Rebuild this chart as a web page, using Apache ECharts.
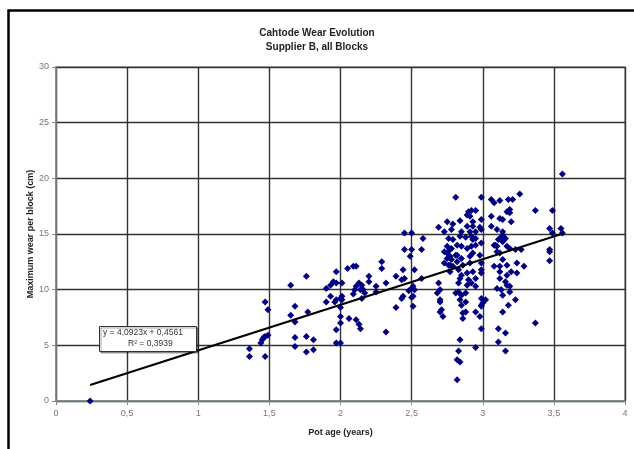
<!DOCTYPE html>
<html>
<head>
<meta charset="utf-8">
<script src="https://cdn.jsdelivr.net/npm/echarts@6/dist/echarts.min.js"></script>
<style>
  html, body { margin: 0; padding: 0; background: #fff; }
  #chart { width: 634px; height: 449px; }
</style>
</head>
<body>
<div id="chart"></div>
<script>
// pot age (years) and maximum wear (cm)
const potAge = [
  0.24,
  1.36, 1.36, 1.47, 1.49, 1.47, 1.46, 1.45, 1.49, 1.44, 1.47,
  1.65, 1.76, 1.68, 1.65, 1.68, 1.77, 1.68, 1.68, 1.76, 1.81, 1.76, 1.81,
  1.90, 1.93, 1.95, 1.97, 1.90, 1.93, 1.96, 2.00, 2.00, 2.00, 1.97, 1.97, 2.00,
  2.45, 2.50, 2.58, 2.45, 2.50, 2.49, 2.57, 2.29, 2.29, 2.09, 2.05, 2.11,
  2.44, 2.52, 2.20, 2.20, 2.32, 2.39, 2.43, 2.45, 2.13, 2.11, 2.15, 2.01,
  1.97, 2.10, 2.14, 2.16, 2.17, 2.25, 2.25, 2.15, 2.09, 2.01, 2.01, 2.50,
  2.52, 2.48, 2.44, 2.43, 2.50, 2.39, 2.51, 1.97, 2.00, 2.06, 2.11, 2.13,
  2.14, 2.32,
  2.81, 2.99, 3.26, 3.06, 3.08, 3.12, 3.18, 3.21, 3.37, 3.49, 3.56, 2.90,
  2.92, 2.95, 2.89, 2.91, 2.75, 2.79, 2.84, 2.99, 3.06, 3.12, 3.14, 3.17,
  3.19, 3.20, 2.69, 2.73, 2.78, 2.85, 2.89, 2.91, 2.93, 2.98, 3.06, 3.10,
  3.14, 3.47, 3.55, 3.56, 2.76, 2.79, 2.84, 2.88, 2.92, 2.95, 3.12, 3.16,
  2.75, 2.78, 2.82, 2.85, 2.89, 2.92, 3.08, 3.10, 3.17, 3.23, 3.27, 3.47,
  2.75, 2.77, 2.81, 2.85, 2.91, 3.47, 3.12, 3.14, 2.73, 2.77, 2.82, 2.86,
  2.91, 2.99, 3.08, 3.12, 3.17, 3.24, 3.29, 2.77, 2.83, 2.85, 2.89, 2.93,
  2.99, 3.12, 3.17, 3.20, 3.24, 2.57, 2.84, 2.90, 2.95, 3.12, 3.16, 3.17,
  2.83, 2.89, 2.92, 2.95, 2.69, 2.70, 2.68, 2.51, 2.51, 2.83, 2.85, 2.81,
  2.88, 2.84, 2.88, 2.85, 2.99, 3.02, 3.10, 3.13, 3.14, 3.19, 3.23, 3.18,
  2.70, 2.71, 2.70, 2.72, 2.88, 2.86, 2.95, 2.99, 2.98, 3.14, 3.37, 2.99,
  3.11, 3.16, 3.11, 2.84, 2.95, 3.16, 2.83, 2.82, 2.84, 2.82, 2.70, 2.86,
  3.00, 2.99, 3.19, 2.99, 2.73, 2.77, 2.75, 2.78, 2.76, 2.79, 2.82,
  3.14, 3.11, 3.14, 3.09, 3.10, 3.19, 3.19, 3.49, 3.47,
  2.95, 2.99, 2.93, 2.99, 2.95, 2.93, 2.98, 2.93
];
const maxWear = [
  0.0,
  4.7, 4.0, 8.9, 8.2, 5.8, 5.7, 5.5, 5.9, 5.2, 4.0,
  10.4, 11.2, 8.5, 7.7, 7.1, 8.0, 5.7, 4.9, 5.8, 5.5, 4.4, 4.6,
  10.1, 10.4, 10.7, 11.6, 8.9, 9.4, 8.9, 9.2, 7.6, 7.0, 6.4, 5.2, 5.2,
  15.1, 15.1, 14.6, 13.6, 13.6, 13.0, 13.6, 12.5, 11.9, 12.1, 11.9, 12.1,
  11.8, 11.8, 11.2, 10.7, 10.6, 11.2, 10.9, 11.0, 10.6, 10.3, 10.4, 10.6,
  10.6, 10.0, 10.0, 10.0, 9.7, 10.3, 9.8, 9.2, 9.6, 9.4, 9.1, 10.1,
  10.0, 9.9, 9.4, 9.2, 9.3, 8.4, 8.5, 9.1, 8.4, 7.4, 7.3, 6.9,
  6.5, 6.2,
  18.3, 18.3, 18.6, 18.1, 17.8, 18.0, 18.1, 18.1, 17.1, 17.1, 20.4, 17.0,
  17.1, 17.1, 16.7, 16.6, 16.1, 15.9, 16.2, 16.3, 16.6, 16.4, 16.3, 17.0,
  16.9, 16.1, 15.6, 15.2, 15.4, 15.2, 15.7, 15.2, 15.7, 15.6, 15.7, 15.4,
  15.2, 15.5, 15.5, 15.1, 14.6, 14.5, 14.8, 14.7, 14.8, 14.6, 14.6, 14.6,
  13.9, 13.7, 14.0, 13.9, 13.7, 13.9, 14.0, 13.9, 13.9, 13.6, 13.6, 13.4,
  13.3, 13.0, 13.1, 12.8, 13.0, 12.6, 13.3, 12.7, 12.4, 12.2, 12.5, 12.2,
  12.4, 12.4, 12.1, 12.1, 12.2, 12.4, 12.1, 11.6, 11.8, 11.3, 11.5, 11.6,
  11.8, 11.6, 11.3, 11.6, 11.5, 11.0, 11.0, 10.9, 11.0, 11.0, 10.7, 10.4,
  10.6, 10.4, 10.6, 10.3, 10.6, 10.0, 9.7, 10.3, 9.4, 9.8, 9.5, 9.7,
  9.7, 9.1, 8.9, 8.6, 9.2, 9.1, 10.1, 10.0, 9.5, 9.8, 9.1, 8.6,
  8.9, 8.2, 8.0, 7.6, 8.0, 7.4, 8.0, 8.6, 7.6, 8.0, 7.0, 6.5,
  6.5, 6.1, 5.3, 5.5, 4.8, 4.5, 4.5, 3.7, 3.5, 1.9, 9.1, 7.9,
  8.8, 8.5, 10.3, 11.5, 13.4, 13.6, 12.8, 12.7, 12.2, 12.1, 13.1,
  14.9, 14.5, 14.3, 14.0, 13.4, 13.7, 17.2, 15.1, 13.6,
  15.2, 15.4, 14.5, 14.2, 14.0, 13.3, 13.1, 16.1
];

// linear trendline as printed on the chart
const slope = 4.0923;
const intercept = 0.4561;
const trendRange = [0.24, 3.57];

const xTicks = [0, 0.5, 1, 1.5, 2, 2.5, 3, 3.5, 4];
const yTicks = [0, 5, 10, 15, 20, 25, 30];

const points = potAge.map((x, i) => [x, maxWear[i]]);
const trend = trendRange.map((x) => [x, slope * x + intercept]);

const chart = echarts.init(document.getElementById("chart"));

const fontFamily = "Liberation Sans, Arial, sans-serif";

chart.setOption({
  animation: false,
  backgroundColor: "#fff",
  title: {
    text: "Cahtode Wear Evolution\nSupplier B, all Blocks",
    left: "center",
    top: 21,
    textStyle: {
      fontFamily,
      fontSize: 10,
      fontWeight: "bold",
      color: "#222",
      lineHeight: 14,
    },
  },
  grid: {
    left: 56,
    right: 9,
    top: 67,
    bottom: 48,
    show: true,
    borderColor: "#8a9a92",
    borderWidth: 1.5,
    backgroundColor: "#fff",
  },
  xAxis: {
    type: "value",
    min: xTicks[0],
    max: xTicks[xTicks.length - 1],
    interval: 0.5,
    name: "Pot age (years)",
    nameLocation: "middle",
    nameGap: 27,
    nameMoveOverlap: false,
    nameTextStyle: { fontFamily, fontSize: 9, fontWeight: "bold", color: "#222" },
    axisLine: { lineStyle: { color: "#7f8f88", width: 1.5 } },
    axisTick: { show: true, length: 4, lineStyle: { color: "#888" } },
    axisLabel: {
      fontFamily,
      fontSize: 9,
      color: "#777",
      margin: 8,
      formatter: (v) => String(v).replace(".", ","),
    },
    splitLine: { lineStyle: { color: "#333", width: 1.4 } },
  },
  yAxis: {
    type: "value",
    min: yTicks[0],
    max: yTicks[yTicks.length - 1],
    interval: 5,
    name: "Maximum wear per block (cm)",
    nameLocation: "middle",
    nameGap: 21,
    nameMoveOverlap: false,
    nameTextStyle: { fontFamily, fontSize: 9, fontWeight: "bold", color: "#222" },
    axisLine: { show: true, lineStyle: { color: "#7f8f88", width: 1.5 } },
    axisTick: { show: true, length: 4, lineStyle: { color: "#888" } },
    axisLabel: { fontFamily, fontSize: 9, color: "#777", margin: 7 },
    splitLine: { lineStyle: { color: "#333", width: 1.4 } },
  },
  series: [
    {
      name: "wear",
      type: "scatter",
      symbol: "diamond",
      symbolSize: 7,
      itemStyle: { color: "#000080", opacity: 1 },
      data: points,
      z: 3,
    },
    {
      name: "trend",
      type: "line",
      data: trend,
      symbol: "none",
      lineStyle: { color: "#000", width: 2.2 },
      z: 4,
    },
  ],
  graphic: [
    {
      // outer frame of the chart (only left and top edges are visible)
      type: "rect",
      left: 6,
      top: 8,
      shape: { width: 640, height: 450 },
      style: { fill: "none", stroke: "#000", lineWidth: 2.5 },
      silent: true,
    },
    {
      type: "rect",
      left: 99,
      top: 326,
      z: 100,
      zlevel: 2,
      shape: { width: 97, height: 25 },
      style: {
        fill: "#fff",
        stroke: "#333",
        lineWidth: 1,
        shadowColor: "rgba(0,0,0,0.35)",
        shadowOffsetX: 1.5,
        shadowOffsetY: 1.5,
      },
    },
    {
      type: "text",
      left: 103,
      top: 328,
      z: 101,
      zlevel: 2,
      style: {
        text: "y = 4,0923x + 0,4561",
        font: "8.5px " + fontFamily,
        fill: "#333",
      },
    },
    {
      type: "text",
      left: 128,
      top: 339,
      z: 101,
      zlevel: 2,
      style: {
        text: "R² = 0,3939",
        font: "8.5px " + fontFamily,
        fill: "#333",
      },
    },
  ],
});
</script>
</body>
</html>
